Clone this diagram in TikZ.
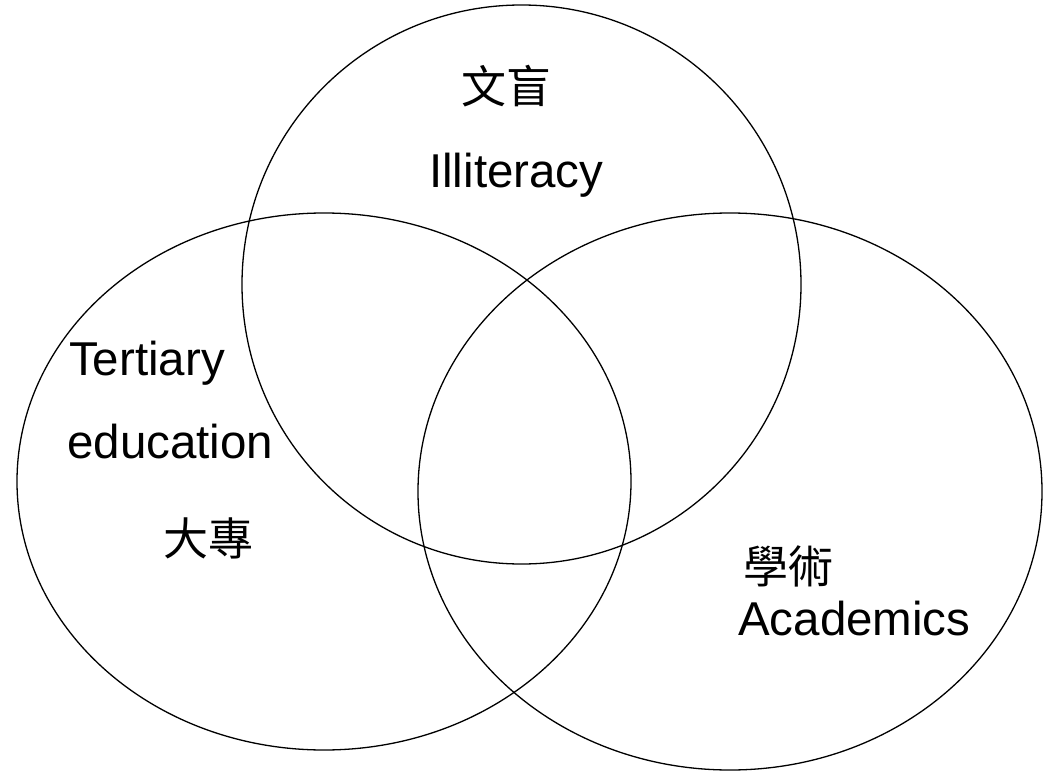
\documentclass[tikz,border=0pt]{standalone}
\usepackage{fontspec}
\setmainfont{Liberation Sans}
\newfontfamily\cjk{Noto Sans CJK TC}
\begin{document}
\begin{tikzpicture}[x=1pt,y=-1pt,
  setc/.style={draw=black,line width=1.3pt},
  lbl/.style={inner sep=0pt,font=\fontsize{47.5}{57}\selectfont},
  cjklbl/.style={inner sep=0pt,font=\cjk\fontsize{45}{54}\selectfont}]
\useasboundingbox (0,0) rectangle (1045,771);
\path[fill=white] (0,0) rectangle (1045,771);
\draw[setc] (521.5,284.5) ellipse [x radius=279.5, y radius=279.5];
\draw[setc] (324,481.5) ellipse [x radius=307, y radius=268.5];
\draw[setc] (730,491.5) ellipse [x radius=312, y radius=278.5];
\node[cjklbl] (t1) at (506,86) {文盲};
\node[lbl,anchor=base west] (t2) at (429,187) {Illiteracy};
\node[lbl,anchor=base west] (l1) at (69,375) {Tertiary};
\node[lbl,anchor=base west] (l2) at (67,458) {education};
\node[cjklbl] (l3) at (208,538) {大專};
\node[cjklbl] (r1) at (788,566) {學術};
\node[lbl,anchor=base west] (r2) at (738,635) {Academics};
\end{tikzpicture}
\end{document}
